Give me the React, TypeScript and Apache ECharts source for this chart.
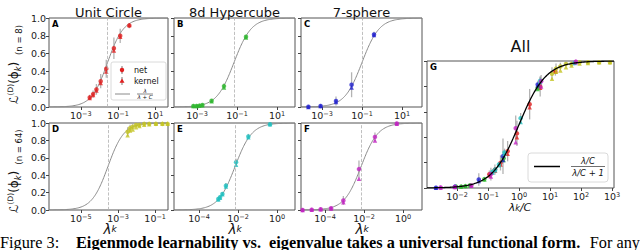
import React, { useEffect, useRef } from 'react';
import * as echarts from 'echarts';

// ---- data (log10 of eigenvalue λ_k, learnability values, error half-widths) ----
const aLogLambda = [-2.52, -2.34, -2.16, -1.93, -1.63, -1.22, -0.88, -0.39];
const aNet = [0.108, 0.145, 0.198, 0.29, 0.43, 0.66, 0.8, 0.915];
const aKernel = [0.1, 0.135, 0.185, 0.27, 0.4, 0.635, 0.79, 0.92];
const aErr = [0.03, 0.04, 0.06, 0.08, 0.1, 0.12, 0.08, 0.03];
const aLogC = -1.56;

const bLogLambda = [-3.18, -3.02, -2.88, -2.73, -2.27, -1.65, -0.55];
const bNet = [0.011, 0.011, 0.015, 0.022, 0.07, 0.235, 0.79];
const bKernel = [0.01, 0.012, 0.016, 0.02, 0.066, 0.22, 0.78];
const bErr = [0.004, 0.004, 0.005, 0.008, 0.015, 0.03, 0.02];
const bLogC = -1.15;

const cLogLambda = [-3.68, -3.07, -2.3, -1.52, -0.4];
const cNet = [0.002, 0.011, 0.067, 0.25, 0.815];
const cKernel = [0.001, 0.01, 0.055, 0.22, 0.81];
const cErr = [0.004, 0.008, 0.05, 0.14, 0.03];
const cLogC = -1.0;

const dLogLambda = [-2.48, -2.35, -2.21, -2.03, -1.85, -1.59, -1.32, -0.96, -0.61, -0.33];
const dNet = [0.9, 0.94, 0.957, 0.977, 0.977, 0.99, 0.99, 0.99, 0.99, 0.99];
const dKernel = [0.86, 0.915, 0.925, 0.95, 0.965, 0.98, 0.985, 0.99, 0.99, 0.99];
const dErr = [0.05, 0.04, 0.03, 0.02, 0.02, 0.01, 0.01, 0.01, 0.01, 0.01];
const dLogC = -3.54;

const eLogLambda = [-3.01, -2.92, -2.8, -2.62, -2.1, -1.47, -0.36];
const eNet = [0.127, 0.146, 0.185, 0.28, 0.55, 0.845, 0.985];
const eKernel = [0.12, 0.14, 0.18, 0.27, 0.52, 0.835, 0.985];
const eErr = [0.02, 0.02, 0.02, 0.03, 0.04, 0.03, 0.01];
const eLogC = -2.15;

const fLogLambda = [-5.15, -4.68, -4.22, -3.69, -3.06, -2.26, -1.44, -0.32];
const fNet = [0.0, 0.004, 0.008, 0.02, 0.11, 0.47, 0.84, 0.995];
const fKernel = [0.0, 0.004, 0.008, 0.018, 0.09, 0.36, 0.8, 0.99];
const fErr = [0.003, 0.004, 0.005, 0.01, 0.05, 0.1, 0.05, 0.01];
const fLogC = -2.15;

const topTicks = [-3, -1, 1];
const dTicks = [-5, -3, -1];
const efTicks = [-4, -2, 0];
const gTicks = [-2, -1, 0, 1, 2, 3];

const titles = ['Unit Circle', '8d Hypercube', '7-sphere', 'All'];
const panelLetters = ['A', 'B', 'C', 'D', 'E', 'F', 'G'];
const nLabels = ['(n = 8)', '(n = 64)'];

const FONT = '"DejaVu Sans", sans-serif';
const SERIF = '"Liberation Serif", "Times New Roman", serif';

type Panel = {
  logLambda: number[]; net: number[]; kernel: number[]; err: number[]; logC: number;
  color: string; xMin: number; xMax: number; ticks: number[];
  left: number; top: number; width: number; height: number; yLabels: boolean;
};

const panels: Panel[] = [
  { logLambda: aLogLambda, net: aNet, kernel: aKernel, err: aErr, logC: aLogC, color: '#e02020', xMin: -4.71, xMax: 1.69, ticks: topTicks, left: 49, top: 18, width: 119, height: 89, yLabels: true },
  { logLambda: bLogLambda, net: bNet, kernel: bKernel, err: bErr, logC: bLogC, color: '#2db82d', xMin: -4.15, xMax: 1.9, ticks: topTicks, left: 174, top: 18, width: 121, height: 89, yLabels: false },
  { logLambda: cLogLambda, net: cNet, kernel: cKernel, err: cErr, logC: cLogC, color: '#2222d0', xMin: -4.05, xMax: 2.0, ticks: topTicks, left: 301, top: 18, width: 121, height: 89, yLabels: false },
  { logLambda: dLogLambda, net: dNet, kernel: dKernel, err: dErr, logC: dLogC, color: '#c4c420', xMin: -6.71, xMax: -0.31, ticks: dTicks, left: 49, top: 123, width: 119, height: 87, yLabels: true },
  { logLambda: eLogLambda, net: eNet, kernel: eKernel, err: eErr, logC: eLogC, color: '#20c0c0', xMin: -5.28, xMax: 0.92, ticks: efTicks, left: 174, top: 123, width: 121, height: 87, yLabels: false },
  { logLambda: fLogLambda, net: fNet, kernel: fKernel, err: fErr, logC: fLogC, color: '#c020c0', xMin: -5.23, xMax: 0.97, ticks: efTicks, left: 301, top: 123, width: 121, height: 87, yLabels: false },
];
const gGrid = { left: 427, top: 61, width: 187, height: 127, xMin: -2.97, xMax: 3.06 };

function curve(xMin: number, xMax: number, logC: number) {
  const pts: number[][] = [];
  const n = 200;
  for (let k = 0; k <= n; k++) {
    const t = xMin + ((xMax - xMin) * k) / n;
    pts.push([t, 1 / (1 + Math.pow(10, logC - t))]);
  }
  return pts;
}

const tickLabelRich = {
  b: { fontSize: 9.5, fontFamily: FONT, color: '#222', lineHeight: 10 },
  s: { fontSize: 6.5, fontFamily: FONT, color: '#222', verticalAlign: 'top', lineHeight: 7 },
};
const powFmt = (v: number) => {
  const n = Math.round(v);
  return `{b|10}{s|${n < 0 ? '−' : ''}${Math.abs(n)}}`;
};

function errSeries(idx: number, xs: number[], ys: number[], es: number[], color: string) {
  return {
    type: 'custom', xAxisIndex: idx, yAxisIndex: idx, clip: true, z: 3, silent: true,
    encode: { x: 0, y: [1, 2] },
    data: xs.map((x, j) => [x, ys[j] - es[j], ys[j] + es[j]]),
    renderItem: (_p: any, api: any) => {
      const x = api.value(0);
      const p1 = api.coord([x, api.value(1)]);
      const p2 = api.coord([x, api.value(2)]);
      return {
        type: 'line',
        shape: { x1: p1[0], y1: p1[1], x2: p2[0], y2: p2[1] },
        style: { stroke: color, lineWidth: 1.3, opacity: 0.75 },
      };
    },
  };
}

function buildOption() {
  const grid: any[] = [];
  const xAxis: any[] = [];
  const yAxis: any[] = [];
  const series: any[] = [];
  const all = [...panels.map((p) => ({ ...p })), { ...gGrid, ticks: gTicks, yLabels: false } as any];

  all.forEach((p: any, i: number) => {
    grid.push({ left: p.left, top: p.top, width: p.width, height: p.height, show: true, borderColor: '#555', borderWidth: 1, backgroundColor: 'transparent', containLabel: false });
    xAxis.push({
      type: 'value', gridIndex: i, min: p.xMin, max: p.xMax, position: 'bottom',
      axisLine: { show: false, onZero: false },
      axisTick: { show: true, customValues: p.ticks, length: 3, lineStyle: { color: '#444' } },
      axisLabel: { show: true, customValues: p.ticks, formatter: powFmt, rich: tickLabelRich, margin: 3, color: '#222', fontSize: 9.5, fontFamily: FONT },
      splitLine: { show: false },
    });
    yAxis.push({
      type: 'value', gridIndex: i, min: 0, max: 1, interval: 0.2, position: 'left',
      axisLine: { show: false, onZero: false },
      axisTick: { show: true, length: 3, lineStyle: { color: '#444' } },
      axisLabel: { show: p.yLabels, formatter: (v: number) => v.toFixed(1), fontSize: 9.5, fontFamily: FONT, color: '#222', margin: 3 },
      splitLine: { show: false },
    });
  });

  panels.forEach((p, i) => {
    series.push({
      type: 'line', xAxisIndex: i, yAxisIndex: i, data: curve(p.xMin, p.xMax, p.logC),
      showSymbol: false, silent: true, z: 2, lineStyle: { color: '#8a8a8a', width: 1 },
      markLine: { silent: true, symbol: 'none', label: { show: false }, lineStyle: { type: 'dashed', color: '#b0b0b0', width: 0.8 }, data: [{ xAxis: p.logC }] },
    });
    series.push(errSeries(i, p.logLambda, p.net, p.err, '#999'));
    series.push({ type: 'scatter', xAxisIndex: i, yAxisIndex: i, symbol: 'circle', symbolSize: 4.5, z: 4, itemStyle: { color: p.color }, data: p.logLambda.map((x, j) => [x, p.net[j]]) });
    series.push({ type: 'scatter', xAxisIndex: i, yAxisIndex: i, symbol: 'triangle', symbolSize: 4.5, z: 4, itemStyle: { color: p.color }, data: p.logLambda.map((x, j) => [x, p.kernel[j]]) });
  });

  const gi = 6;
  series.push({ type: 'line', xAxisIndex: gi, yAxisIndex: gi, data: curve(gGrid.xMin, gGrid.xMax, 0), showSymbol: false, silent: true, z: 5, lineStyle: { color: '#000', width: 1.3 } });
  panels.forEach((p) => {
    const xs = p.logLambda.map((x) => x - p.logC);
    series.push(errSeries(gi, xs, p.net, p.err, '#999'));
  });
  panels.forEach((p) => {
    const xs = p.logLambda.map((x) => x - p.logC);
    series.push({ type: 'scatter', xAxisIndex: gi, yAxisIndex: gi, symbol: 'circle', symbolSize: 4.5, z: 4, itemStyle: { color: p.color }, data: xs.map((x, j) => [x, p.net[j]]) });
    series.push({ type: 'scatter', xAxisIndex: gi, yAxisIndex: gi, symbol: 'triangle', symbolSize: 4.5, z: 4, itemStyle: { color: p.color }, data: xs.map((x, j) => [x, p.kernel[j]]) });
  });

  const t = (x: number, y: number, text: string, st: any = {}, extra: any = {}) => ({
    type: 'text', x, y, z: 100, ...extra,
    style: { text, fontFamily: FONT, fontSize: 10, fill: '#111', textAlign: 'center', textVerticalAlign: 'middle', verticalAlign: 'middle', ...st },
  });

  const graphic: any[] = [];
  // titles
  graphic.push(t(108.5, 12, titles[0], { fontSize: 13 }));
  graphic.push(t(234.5, 12, titles[1], { fontSize: 13 }));
  graphic.push(t(361.5, 12, titles[2], { fontSize: 13 }));
  graphic.push(t(520.5, 46, titles[3], { fontSize: 16 }));
  // panel letters
  const letterPos = [[52, 24], [177, 24], [304, 24], [52, 129], [177, 129], [304, 129], [430, 67]];
  letterPos.forEach(([x, y], k) => graphic.push(t(x, y, panelLetters[k], { fontSize: 8.5, fontWeight: 'bold', textAlign: 'left', fill: '#000' })));

  // y-axis labels (rotated)
  const lRich = {
    L: { fontSize: 12, fontFamily: FONT, fill: '#111', lineHeight: 16 },
    p: { fontSize: 7.5, fontFamily: FONT, fill: '#111', verticalAlign: 'top', lineHeight: 10 },
    k: { fontSize: 8, fontFamily: FONT, fontStyle: 'italic', fill: '#111', verticalAlign: 'bottom', lineHeight: 10 },
  };
  const lText = '{L|ℒ}{p|(D)}{L|(ϕ}{k|k}{L|)}';
  graphic.push(t(14, 83, lText, { rich: lRich }, { rotation: Math.PI / 2 }));
  graphic.push(t(14, 192, lText, { rich: lRich }, { rotation: Math.PI / 2 }));
  graphic.push(t(19, 40, nLabels[0], { fontSize: 8.5 }, { rotation: Math.PI / 2 }));
  graphic.push(t(19, 147, nLabels[1], { fontSize: 8.5 }, { rotation: Math.PI / 2 }));

  // x-axis labels
  const xRich = {
    l: { fontSize: 13.5, fontFamily: FONT, fontStyle: 'italic', fill: '#111', lineHeight: 10 },
    s: { fontSize: 9, fontFamily: FONT, fontStyle: 'italic', fill: '#111', verticalAlign: 'bottom', lineHeight: 7 },
  };
  [110, 235, 362].forEach((x) => graphic.push(t(x, 228.5, '{l|λ}{s|k}', { rich: xRich })));
  const gRich = {
    l: { fontSize: 11, fontFamily: FONT, fontStyle: 'italic', fill: '#111', lineHeight: 11 },
    s: { fontSize: 8, fontFamily: FONT, fontStyle: 'italic', fill: '#111', verticalAlign: 'bottom', lineHeight: 8 },
  };
  graphic.push(t(520, 207, '{l|λ}{s|k}{l|/C}', { rich: gRich }));

  // legend in A
  graphic.push({ type: 'rect', z: 90, shape: { x: 111, y: 62, width: 55, height: 38, r: 2 }, style: { fill: 'rgba(255,255,255,0.85)', stroke: '#d0d0d0', lineWidth: 0.8 } });
  graphic.push({ type: 'line', z: 95, shape: { x1: 122, y1: 66, x2: 122, y2: 74 }, style: { stroke: '#999', lineWidth: 1.3 } });
  graphic.push({ type: 'circle', z: 96, shape: { cx: 122, cy: 70, r: 2.2 }, style: { fill: '#e02020' } });
  graphic.push({ type: 'line', z: 95, shape: { x1: 122, y1: 77, x2: 122, y2: 85 }, style: { stroke: '#999', lineWidth: 1.3 } });
  graphic.push({ type: 'polygon', z: 96, shape: { points: [[122, 78.5], [124.5, 82.8], [119.5, 82.8]] }, style: { fill: '#e02020' } });
  graphic.push(t(134, 70, 'net', { fontSize: 8, textAlign: 'left' }));
  graphic.push(t(134, 81, 'kernel', { fontSize: 8, textAlign: 'left' }));
  graphic.push({ type: 'line', z: 95, shape: { x1: 115, y1: 94, x2: 130, y2: 94 }, style: { stroke: '#8a8a8a', lineWidth: 1 } });
  graphic.push(t(145, 90.5, 'λ', { fontSize: 5.5, fontStyle: 'italic' }));
  graphic.push({ type: 'line', z: 95, shape: { x1: 137, y1: 94, x2: 153, y2: 94 }, style: { stroke: '#111', lineWidth: 0.5 } });
  graphic.push(t(145, 97.3, 'λ + C', { fontSize: 5.5, fontStyle: 'italic' }));

  // legend in G
  graphic.push({ type: 'rect', z: 90, shape: { x: 528, y: 153, width: 80, height: 29, r: 3 }, style: { fill: 'rgba(255,255,255,0.85)', stroke: '#d0d0d0', lineWidth: 0.8 } });
  graphic.push({ type: 'line', z: 95, shape: { x1: 534, y1: 166.5, x2: 560, y2: 166.5 }, style: { stroke: '#000', lineWidth: 1.5 } });
  graphic.push(t(588, 161, 'λ/C', { fontSize: 8.5, fontStyle: 'italic' }));
  graphic.push({ type: 'line', z: 95, shape: { x1: 571, y1: 166.5, x2: 605, y2: 166.5 }, style: { stroke: '#111', lineWidth: 0.6 } });
  graphic.push(t(588, 172.5, 'λ/C + 1', { fontSize: 8.5, fontStyle: 'italic' }));

  // caption
  const cap = { fontFamily: SERIF, fontSize: 16.3, lineHeight: 13, fill: '#000', textVerticalAlign: 'middle', verticalAlign: 'middle' };
  graphic.push(t(0, 242, 'Figure 3:', { ...cap, textAlign: 'left' }));
  graphic.push(t(76, 242, 'Eigenmode learnability vs.  eigenvalue takes a universal functional form.', { ...cap, fontWeight: 'bold', textAlign: 'left' }));
  graphic.push(t(640, 242, 'For any', { ...cap, textAlign: 'right' }));

  return { animation: false, backgroundColor: '#fff', grid, xAxis, yAxis, series, graphic };
}

export default function App() {
  const ref = useRef<HTMLDivElement>(null);
  useEffect(() => {
    if (!ref.current) return;
    const chart = echarts.init(ref.current, undefined, { renderer: 'svg' });
    chart.setOption(buildOption() as any);
    return () => chart.dispose();
  }, []);
  return <div ref={ref} style={{ position: 'fixed', left: 0, top: 0, width: 640, height: 250 }} />;
}
